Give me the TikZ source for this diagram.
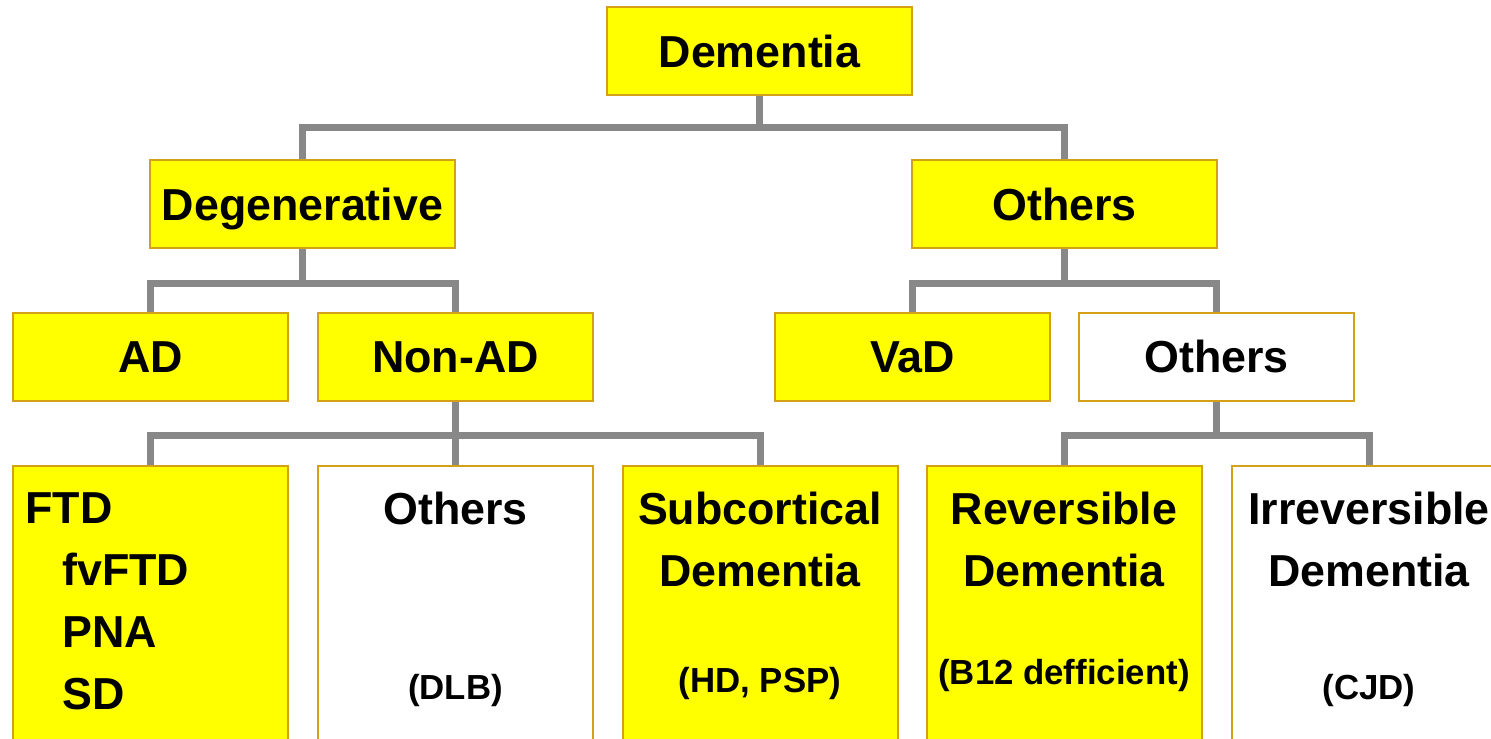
\documentclass[tikz,border=0pt]{standalone}
\usepackage{fontspec}
\setmainfont{Liberation Sans}
\usetikzlibrary{calc}
\definecolor{boxyellow}{HTML}{FFFF00}
\definecolor{boxedge}{HTML}{D4A017}
\definecolor{linkgray}{HTML}{888888}
\begin{document}
\begin{tikzpicture}[x=0.5pt,y=-0.5pt,
  box/.style={draw=boxedge,line width=1pt,fill=boxyellow,minimum width=137.5pt,minimum height=44pt,inner sep=0pt,text height=16pt,text depth=0pt,font=\fontsize{22.4}{31}\selectfont\bfseries},
  wbox/.style={box,fill=white},
  tall/.style={minimum height=200pt,anchor=north},
  link/.style={draw=linkgray,line width=3.5pt},
  big/.style={inner sep=0pt,font=\fontsize{22.4}{31}\selectfont\bfseries,align=center},
  small/.style={inner sep=0pt,font=\fontsize{17.4}{20}\selectfont\bfseries}]
\useasboundingbox (0,0) rectangle (1491,738);
\clip (0,0) rectangle (1491,738);
%
\node[box,minimum width=152.5pt] (dem) at (759.5,51.5) {Dementia};
\node[box,minimum width=152.5pt] (deg) at (302.5,204) {Degenerative};
\node[box,minimum width=152.5pt] (oth) at (1064.5,204) {Others};
\node[box] (ad) at (150.5,356.5) {AD};
\node[box] (nonad) at (455.5,356.5) {Non-AD};
\node[box] (vad) at (912.5,356.5) {VaD};
\node[wbox] (oth2) at (1216.5,356.5) {Others};
%
\node[box,tall] (ftd) at (150.5,465) {};
\node[wbox,tall] (oth3) at (455.5,465) {};
\node[box,tall] (sub) at (760,465) {};
\node[box,tall] (rev) at (1064,465) {};
\node[wbox,tall] (irr) at (1369,465) {};
%
\draw[link] (dem.south) -- ++(0,31) coordinate (j1) -| (deg.north);
\draw[link] (j1) -| (oth.north);
\draw[link] (deg.south) -- ++(0,34) coordinate (j2) -| (ad.north);
\draw[link] (j2) -| (nonad.north);
\draw[link] (oth.south) -- ++(0,34) coordinate (j3) -| (vad.north);
\draw[link] (j3) -| (oth2.north);
\draw[link] (nonad.south) -- ++(0,34) coordinate (j4) -| (ftd.north);
\draw[link] (j4) -- (oth3.north);
\draw[link] (j4) -| (sub.north);
\draw[link] (oth2.south) -- ++(0,34) coordinate (j5) -| (rev.north);
\draw[link] (j5) -| (irr.north);
%
\node[big,anchor=north west,align=left] (ftdtxt) at (25,492) {FTD\\\hspace*{18.5pt}fvFTD\\\hspace*{18.5pt}PNA\\\hspace*{18.5pt}SD};
\node[big,anchor=north] (oth3txt) at (455.5,492) {Others};
\node[big,anchor=north] (subtxt) at (760,492) {Subcortical\\Dementia};
\node[big,anchor=north] (revtxt) at (1064,492) {Reversible\\Dementia};
\node[big,anchor=north] (irrtxt) at (1369,492) {Irreversible\\Dementia};
%
\node[small] (dlb) at (455.5,690) {(DLB)};
\node[small] (hdpsp) at (760,683) {(HD, PSP)};
\node[small] (b12) at (1064,675) {(B12 defficient)};
\node[small] (cjd) at (1369,690) {(CJD)};
\end{tikzpicture}
\end{document}
